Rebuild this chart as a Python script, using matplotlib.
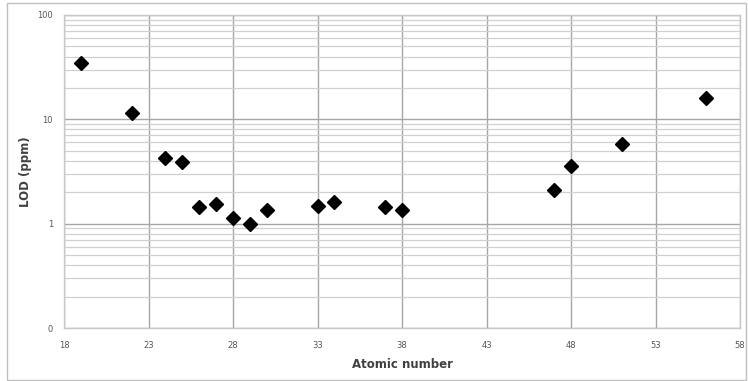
import matplotlib
matplotlib.use("Agg")
import matplotlib.pyplot as plt
from matplotlib.ticker import FixedLocator, LogLocator, NullFormatter
from matplotlib.patches import Rectangle

atomic_number = [19, 22, 24, 25, 26, 27, 28, 29, 30, 33, 34, 37, 38, 47, 48, 51, 56]
lod_ppm = [34.6, 11.4, 4.3, 3.9, 1.46, 1.56, 1.14, 1.0, 1.36, 1.47, 1.63, 1.45, 1.34, 2.12, 3.59, 5.76, 15.9]
x_ticks = [18, 23, 28, 33, 38, 43, 48, 53, 58]
y_ticks = [0.1, 1, 10, 100]
y_tick_labels = ["0", "1", "10", "100"]

fig = plt.figure(figsize=(7.48, 3.81), dpi=100)
fig.patches.append(Rectangle((7/748, 1/381), 739/748, 377/381, transform=fig.transFigure,
                             fill=False, edgecolor="#bfbfbf", linewidth=1.0))
ax = fig.add_axes([64/748, 1-328/381, 676/748, 313/381])
ax.set_yscale("log")
ax.set_xlim(18, 58)
ax.set_ylim(0.1, 100)
ax.xaxis.set_major_locator(FixedLocator(x_ticks))
ax.yaxis.set_major_locator(FixedLocator(y_ticks))
ax.set_yticklabels(y_tick_labels)
ax.yaxis.set_minor_locator(LogLocator(base=10, subs=range(2, 10)))
ax.yaxis.set_minor_formatter(NullFormatter())
ax.grid(True, which="major", axis="both", color="#a6a6a6", linewidth=1.0)
ax.grid(True, which="minor", axis="y", color="#d0d0d0", linewidth=0.9)
ax.set_axisbelow(True)
for s in ax.spines.values():
    s.set_color("#c8c8c8")
    s.set_linewidth(1.0)
ax.tick_params(which="both", length=0, labelsize=6, labelcolor="#555555", pad=8)
ax.tick_params(axis="x", pad=9)

ax.plot(atomic_number, lod_ppm, linestyle="none", marker="D", markersize=7, color="black")

ax.set_xlabel("Atomic number", fontsize=8.5, fontweight="bold", color="#404040", labelpad=6)
ax.set_ylabel("LOD (ppm)", fontsize=8.5, fontweight="bold", color="#404040", labelpad=4)

fig.savefig("out.png", dpi=100)
